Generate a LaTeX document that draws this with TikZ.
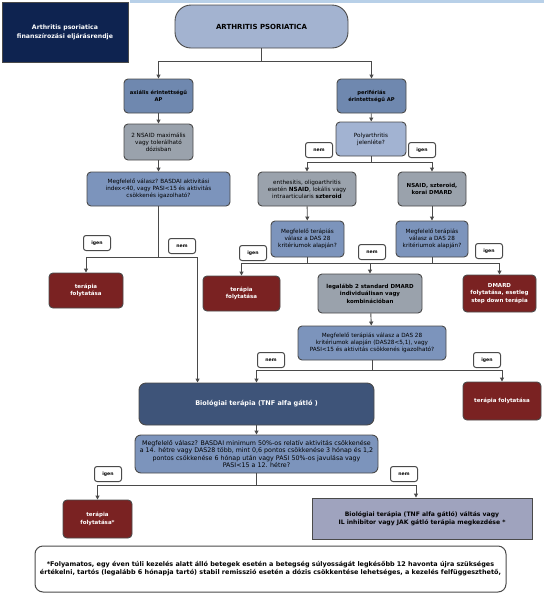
\documentclass[tikz,border=0pt]{standalone}
\usepackage{fontspec}
\setmainfont{DejaVu Sans}
\usetikzlibrary{arrows.meta,calc}
\definecolor{navy}{HTML}{0E2350}
\definecolor{pill}{HTML}{A3B3D0}
\definecolor{midblue}{HTML}{6F88AF}
\definecolor{graybox}{HTML}{9AA2AC}
\definecolor{bluebox}{HTML}{7C94BC}
\definecolor{lightblue}{HTML}{A2B3D2}
\definecolor{darkred}{HTML}{7A2222}
\definecolor{slate}{HTML}{3E5479}
\definecolor{lavender}{HTML}{9FA3BE}
\definecolor{lineg}{HTML}{4A4A4A}
\definecolor{topbar}{HTML}{B8D0E8}
\tikzset{
  box/.style={draw=lineg, line width=0.9pt, rounded corners=4pt, align=center, inner sep=1pt, font=\fontsize{5.7}{7}\selectfont},
  sz/.style 2 args={minimum width=#1, minimum height=#2},
  redbox/.style={box, fill=darkred, text=white, font=\fontsize{5.5}{7.5}\selectfont\bfseries},
  lbl/.style={draw=lineg, line width=1pt, fill=white, rounded corners=2.5pt, minimum width=27pt, minimum height=15pt, inner sep=0pt, font=\fontsize{4.6}{5}\selectfont\bfseries},
  conn/.style={draw=lineg, line width=0.9pt},
  arr/.style={conn, -{Triangle[length=4pt,width=4pt]}}
}
\begin{document}
\begin{tikzpicture}[x=1pt,y=-1pt]
\useasboundingbox (0,0) rectangle (546,598);
\fill[topbar] (130,0) rectangle (544,3);
% title
\node[draw=lineg, line width=0.8pt, fill=navy, text=white, align=center, sz={126pt}{60pt}, font=\fontsize{6.2}{9}\selectfont\bfseries] (ttl) at (65,32) {Arthritis psoriatica\\finanszírozási eljárásrendje};
% top
\node[box, fill=pill, rounded corners=16pt, sz={173pt}{43pt}, font=\fontsize{7}{8}\selectfont\bfseries] (top) at (261.5,26.5) {ARTHRITIS PSORIATICA};
% left branch
\node[box, fill=midblue, sz={69pt}{34pt}, font=\fontsize{5.2}{7}\selectfont\bfseries] (axi) at (158.5,96) {axiális érintettségű\\AP};
\node[box, fill=graybox, sz={69pt}{36pt}] (ns2) at (158.5,142) {2 NSAID maximális\\vagy tolerálható\\dózisban};
\node[box, fill=bluebox, sz={143pt}{34pt}] (bas) at (158.5,189) {Megfelelő válasz? BASDAI aktivitási\\index<40, vagy PASI<15 és aktivitás\\csökkenés igazolható?};
\node[redbox, sz={74pt}{35pt}] (t1) at (86,290.5) {terápia\\folytatása};
% right branch
\node[box, fill=midblue, sz={69pt}{34pt}, font=\fontsize{5.2}{7}\selectfont\bfseries] (per) at (371.5,96) {perifériás\\érintettségű AP};
\node[box, fill=lightblue, sz={70pt}{34pt}] (pol) at (371,139) {Polyarthritis\\jelenléte?};
\node[box, fill=graybox, sz={98pt}{34pt}] (ent) at (307,189) {enthesitis, oligoarthritis\\esetén \textbf{NSAID}, lokális vagy\\intraarticularis \textbf{szteroid}};
\node[box, fill=graybox, sz={68pt}{34pt}, font=\fontsize{5.5}{7.5}\selectfont\bfseries] (nsz) at (432,189) {NSAID, szteroid,\\korai DMARD};
\node[box, fill=bluebox, sz={73pt}{36pt}] (m1) at (307.5,239) {Megfelelő terápiás\\válasz a DAS 28\\kritériumok alapján?};
\node[box, fill=bluebox, sz={72pt}{36pt}] (m2) at (432,239) {Megfelelő terápiás\\válasz a DAS 28\\kritériumok alapján?};
\node[redbox, sz={77pt}{35pt}] (t2) at (241.5,293.5) {terápia\\folytatása};
\node[box, fill=graybox, sz={104pt}{39pt}, font=\fontsize{5.5}{7.5}\selectfont\bfseries] (leg) at (370,293.5) {legalább 2 standard DMARD\\individuálisan vagy\\kombinációban};
\node[redbox, sz={73pt}{37pt}] (dm) at (499.5,293.5) {DMARD\\folytatása, esetleg\\step down terápia};
\node[box, fill=bluebox, sz={148pt}{34pt}] (m3) at (372,343) {Megfelelő terápiás válasz a DAS 28\\kritériumok alapján (DAS28<5,1), vagy\\PASI<15 és aktivitás csökkenés igazolható?};
\node[redbox, sz={78pt}{38pt}] (t3) at (502,401) {terápia folytatása};
% biologic
\node[box, fill=slate, text=white, rounded corners=7pt, sz={235pt}{42pt}, font=\fontsize{6.5}{8}\selectfont\bfseries] (bio) at (256.5,404) {Biológiai terápia (TNF alfa gátló )};
\node[box, fill=bluebox, rounded corners=6pt, sz={243pt}{38pt}, font=\fontsize{6.3}{7.3}\selectfont] (b2) at (256.5,454) {Megfelelő válasz? BASDAI minimum 50\%-os relatív aktivitás csökkenése\\a 14. hétre vagy DAS28 több, mint 0,6 pontos csökkenése 3 hónap és 1,2\\pontos csökkenése 6 hónap után vagy PASI 50\%-os javulása vagy\\PASI<15 a 12. hétre?};
\node[redbox, sz={69pt}{38pt}] (t4) at (97.5,519) {terápia\\folytatása*};
\node[draw=lineg, line width=0.9pt, fill=lavender, align=center, sz={220pt}{41pt}, font=\fontsize{6.1}{8}\selectfont\bfseries] (val) at (422,518.5) {Biológiai terápia (TNF alfa gátló) váltás vagy\\IL inhibitor vagy JAK gátló terápia megkezdése *};
% footnote
\node[draw=lineg, line width=1pt, fill=white, rounded corners=8pt, align=center, sz={471pt}{46pt}, font=\fontsize{6.45}{7.8}\selectfont\bfseries] (fn) at (270.5,569) {*Folyamatos, egy éven túli kezelés alatt álló betegek esetén a betegség súlyosságát legkésőbb 12 havonta újra szükséges\\értékelni, tartós (legalább 6 hónapja tartó) stabil remisszió esetén a dózis csökkentése lehetséges, a kezelés felfüggeszthető,};
% junctions
\coordinate (j0) at (261.5,61);
\coordinate (j1) at (158.5,257);
\coordinate (j2) at (371,162);
\coordinate (j3) at (307.5,263);
\coordinate (j4) at (432,263);
\coordinate (j5) at (372,370);
\coordinate (j6) at (256.5,485);
% connectors
\draw[conn] (top.south) -- (j0);
\draw[arr] (j0) -| (axi.north);
\draw[arr] (j0) -| (per.north);
\draw[arr] (axi) -- (ns2);
\draw[arr] (ns2) -- (bas);
\draw[conn] (bas.south) -- (j1);
\draw[arr] (j1) -| (t1.north);
\draw[arr] (j1) -| ([xshift=59pt]bio.north west);
\draw[arr] (per) -- (pol);
\draw[conn] (pol.south) -- (j2);
\draw[arr] (j2) -| (ent.north);
\draw[arr] (j2) -| (nsz.north);
\draw[arr] (ent) -- (m1);
\draw[arr] (nsz) -- (m2);
\draw[conn] (m1.south) -- (j3);
\draw[arr] (j3) -| (t2.north);
\draw[arr] (j3) -| (leg.north);
\draw[conn] (m2.south) -- (j4);
\draw[arr] (j4) -| (dm.north);
\draw[conn] (j4) -- (leg.north |- j4);
\draw[arr] (leg) -- (m3);
\draw[conn] (m3.south) -- (j5);
\draw[arr] (j5) -| (bio.north);
\draw[arr] (j5) -| (t3.north);
\draw[arr] (bio) -- (b2);
\draw[conn] (b2.south) -- (j6);
\draw[arr] (j6) -| (t4.north);
\draw[arr] (j6) -| ([xshift=-6pt]val.north);
% labels
\node[lbl] (ln1) at (319,150) {nem};
\node[lbl] (li1) at (422,150) {igen};
\node[lbl] (li2) at (97,243) {igen};
\node[lbl] (ln2) at (182,246) {nem};
\node[lbl] (li3) at (253,253) {igen};
\node[lbl] (ln3) at (372,252) {nem};
\node[lbl] (li4) at (489,251) {igen};
\node[lbl] (ln4) at (271,360) {nem};
\node[lbl] (li5) at (487,360) {igen};
\node[lbl] (li6) at (108,474) {igen};
\node[lbl] (ln6) at (404,474) {nem};
\end{tikzpicture}
\end{document}
